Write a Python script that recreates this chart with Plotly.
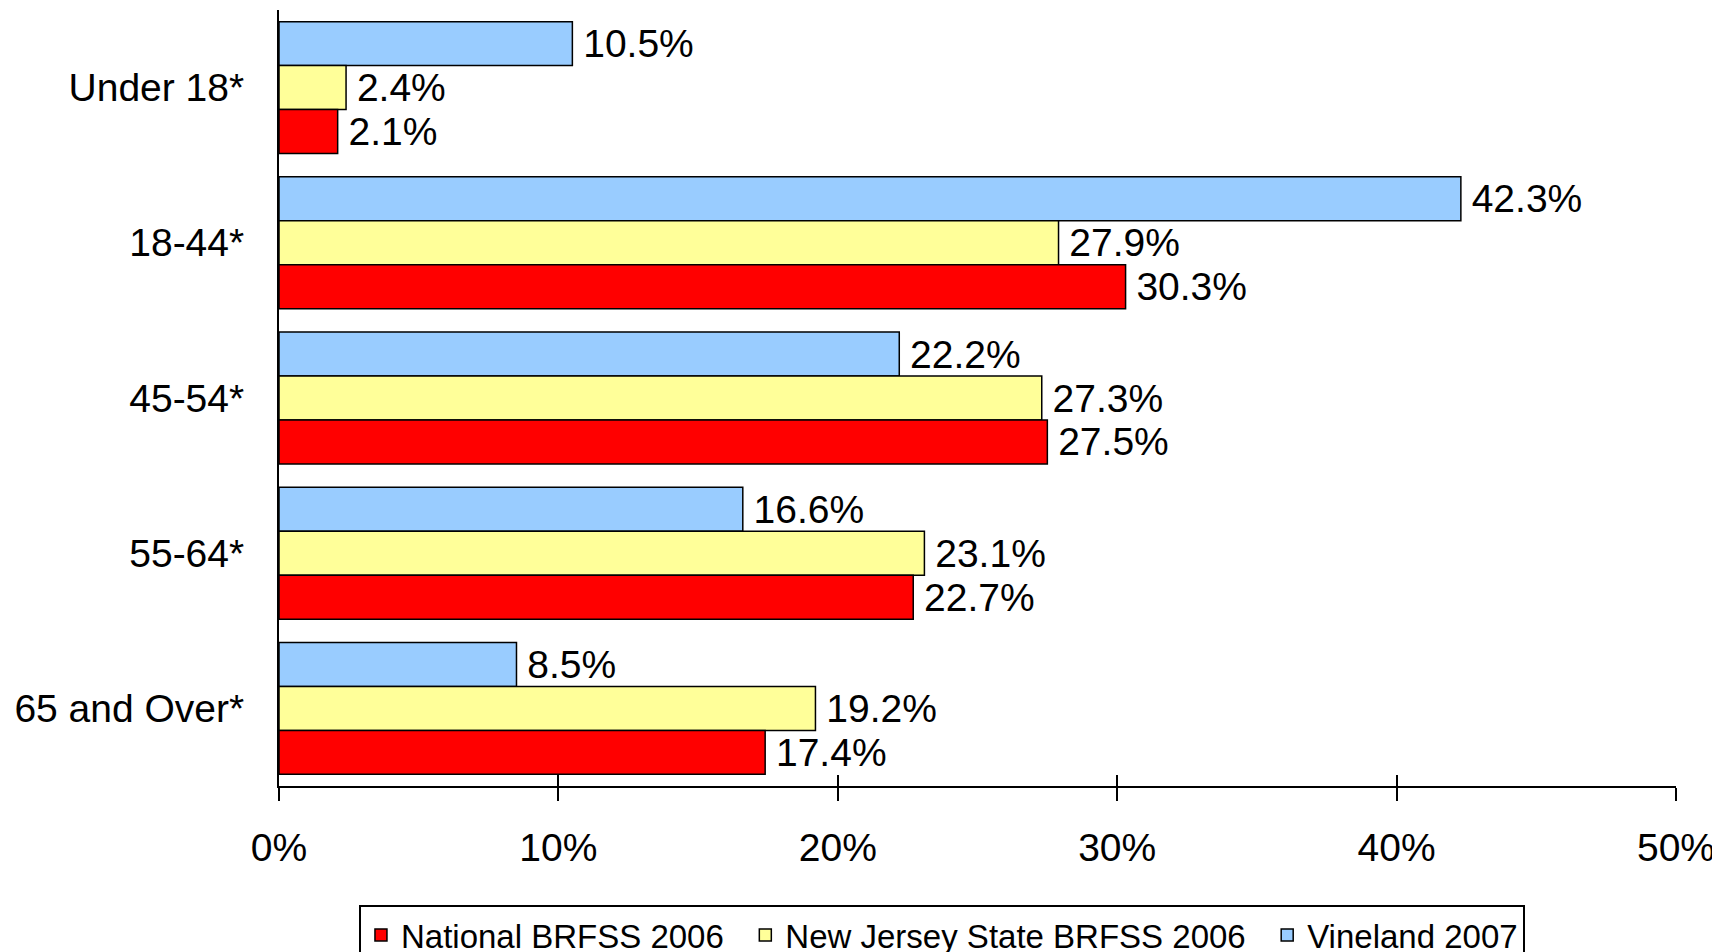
import plotly.graph_objects as go

age_groups = ["Under 18*", "18-44*", "45-54*", "55-64*", "65 and Over*"]
vineland_2007 = [10.5, 42.3, 22.2, 16.6, 8.5]
nj_brfss_2006 = [2.4, 27.9, 27.3, 23.1, 19.2]
national_brfss_2006 = [2.1, 30.3, 27.5, 22.7, 17.4]
x_ticks = [0, 10, 20, 30, 40, 50]
x_tick_text = ["0%", "10%", "20%", "30%", "40%", "50%"]

FONT = "Liberation Sans, Arial, sans-serif"

# trace order top -> bottom inside each group (y axis reversed)
# legend names get a trailing en space so items sit further apart
series = [
    ("Vineland 2007", vineland_2007, "#99CCFF"),
    ("New Jersey State BRFSS 2006\u2002", nj_brfss_2006, "#FFFF99"),
    ("National BRFSS 2006\u2002", national_brfss_2006, "#FF0000"),
]

fig = go.Figure()
for name, values, color in series:
    fig.add_trace(
        go.Bar(
            y=age_groups,
            x=values,
            name=name,
            orientation="h",
            marker=dict(color=color, line=dict(color="black", width=1.5)),
            text=[f"\u2009{v:.1f}%" for v in values],
            textposition="outside",
            constraintext="none",
            cliponaxis=False,
            textfont=dict(family=FONT, size=39, color="black"),
        )
    )

# second x axis only to draw the upward half of the crossing tick marks
fig.add_trace(
    go.Scatter(x=[0, 50], y=[age_groups[0], age_groups[0]], xaxis="x2",
               mode="markers", marker=dict(opacity=0), showlegend=False,
               hoverinfo="skip")
)

# the page body adds an 8px offset, margins are shifted to compensate
fig.update_layout(
    width=1720,
    height=952,
    plot_bgcolor="white",
    paper_bgcolor="white",
    barmode="group",
    bargap=0.15,
    bargroupgap=0,
    margin=dict(l=271, r=52, t=2, b=174),
    font=dict(family=FONT, size=39, color="black"),
    legend=dict(
        orientation="h",
        traceorder="reversed",
        xref="container",
        yref="container",
        x=0.543,
        xanchor="center",
        y=0.0578,
        yanchor="top",
        bordercolor="black",
        borderwidth=2,
        font=dict(family=FONT, size=33, color="black"),
        itemclick=False,
    ),
    xaxis=dict(
        range=[0, 50],
        tickvals=x_ticks,
        ticktext=x_tick_text,
        ticks="outside",
        ticklen=13,
        tickwidth=1.5,
        tickcolor="black",
        ticklabelstandoff=13,
        showline=True,
        linecolor="black",
        linewidth=2,
        showgrid=False,
        zeroline=False,
        automargin=False,
        tickfont=dict(family=FONT, size=39),
    ),
    xaxis2=dict(
        range=[0, 50],
        overlaying="x",
        anchor="y",
        side="bottom",
        tickvals=x_ticks,
        ticks="inside",
        ticklen=11,
        tickwidth=1.5,
        tickcolor="black",
        showticklabels=False,
        showgrid=False,
        zeroline=False,
        automargin=False,
    ),
    yaxis=dict(
        autorange="reversed",
        showline=True,
        linecolor="black",
        linewidth=2,
        ticks="",
        ticklabelstandoff=25,
        showgrid=False,
        automargin=False,
        tickfont=dict(family=FONT, size=39),
    ),
)

fig.write_html("out.html")
